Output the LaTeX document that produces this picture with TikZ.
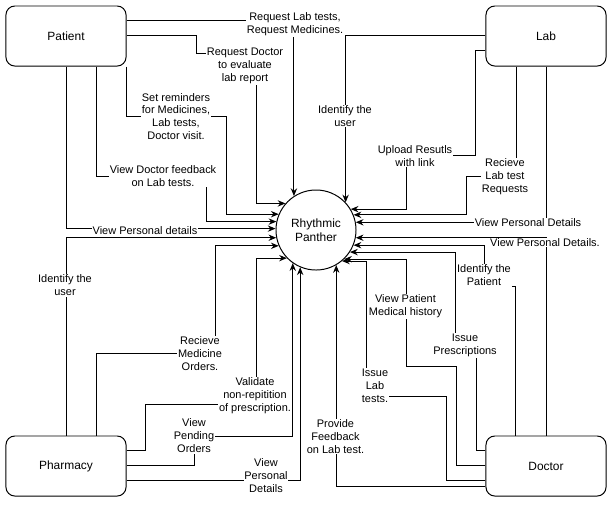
\documentclass[tikz,border=0pt]{standalone}
\usepackage{fontspec}
\setmainfont{Liberation Sans}
\usetikzlibrary{arrows.meta}

\begin{document}
\begin{tikzpicture}[x=0.025cm, y=-0.025cm, line width=0.7pt,
  box/.style={draw, rounded corners=0.22cm, minimum width=3cm, minimum height=1.5cm,
    font=\fontsize{8.5}{10}\selectfont},
  hub/.style={draw, circle, minimum size=2cm, inner sep=0pt, align=center,
    font=\fontsize{8.5}{10}\selectfont},
  lbl/.style={fill=white, inner sep=0.6pt, align=center, font=\fontsize{7.8}{9.2}\selectfont},
  flow/.style={-{Stealth[length=5.5pt,width=4.5pt]}}]
\useasboundingbox (0,0) rectangle (611,509);
% System in the middle, actors in the corners
\node[hub] (circ) at (316,230) {Rhythmic\\Panther};
\foreach \n/\x/\y in {Patient/66/36, Lab/546/36, Pharmacy/66/466, Doctor/546/466} {
  \node[box] (\n) at (\x,\y) {\n};
}

% Patient flows
\draw[flow] (Patient.east |- 0,20) -| (circ.123.4);
\draw[flow] (Patient.east |- 0,35) -| (196,53) -- (256,53) |- (circ.139.46);
\draw[flow] (Patient.south east) |- (226,116) |- (circ.157.98);
\draw[flow] (Patient.south -| 96,0) |- (206,176) |- (circ.168.46);
\draw[flow] (Patient.south) |- (circ.178.57);

% Pharmacy flows
\draw[flow] (Pharmacy.north) |- (circ.191.54);
\draw[flow] (Pharmacy.north -| 96,0) |- (215,353) |- (circ.203.58);
\draw[flow] (Pharmacy.east |- 0,450) -| (145,404) -- (256,404) |- (circ.224.43);
\draw[flow] (Pharmacy.east |- 0,465) -| (194,436) -| (circ.-125.1);
\draw[flow] (Pharmacy.east |- 0,480) -| (circ.-113.58);

% Lab flows
\draw[flow] (Lab.west |- 0,35) -| (circ.43.53);
\draw[flow] (Lab.west |- 0,50) -| (475,155) -- (406,155) |- (circ.31.67);
\draw[flow] (Lab.south -| 516,0) |- (466,176) |- (circ.22.02);
\draw[flow] (Lab.south) |- (circ.11.54);

% Doctor flows
\draw[flow] (Doctor.north) |- (circ.-11.54);
\draw[flow] (Doctor.north -| 515,0) |- (484,286) |- (circ.-22.02);
\draw[flow] (Doctor.west |- 0,450) -| (476,345) -- (455,345) |- (circ.-33.37);
\draw[flow] (Doctor.west |- 0,465) -| (456,366) -- (406,366) |- (circ.-46.47);
\draw[flow] (Doctor.west |- 0,480) -| (446,396) -- (366,396) |- (circ.-50.81);
\draw[flow] (Doctor.west |- 0,486) -| (circ.-60);

% labels on the lines
\node[lbl] (lReq) at (295,24.5) {Request Lab tests,\\Request Medicines.};
\node[lbl] (lDoc) at (245,66) {Request Doctor\\to evaluate\\lab report};
\node[lbl] (lRem) at (176,116.5) {Set reminders\\for Medicines,\\Lab tests,\\Doctor visit.};
\node[lbl] (lFb) at (163,176) {View Doctor feedback\\on Lab tests.};
\node[lbl] (lPdP) at (145,231) {View Personal details};
\node[lbl] (lIdF) at (65,285.5) {Identify the\\user};
\node[lbl] (lMed) at (200,354) {Recieve\\Medicine\\Orders.};
\node[lbl] (lVal) at (255,396) {Validate\\non-repitition\\of prescription.};
\node[lbl] (lPen) at (194,436) {View\\Pending\\Orders};
\node[lbl] (lPdF) at (266,476) {View\\Personal\\Details};
\node[lbl] (lIdL) at (345,116) {Identify the\\user};
\node[lbl] (lUp) at (415,156) {Upload Resutls\\with link};
\node[lbl] (lRcv) at (505,176.5) {Recieve\\Lab test\\Requests};
\node[lbl] (lPdL) at (528,223) {View Personal Details};
\node[lbl] (lPdD) at (545,242.5) {View Personal Details.};
\node[lbl] (lIdD) at (484,275.5) {Identify the\\Patient};
\node[lbl] (lPre) at (465,345.5) {Issue\\Prescriptions};
\node[lbl] (lHis) at (405.5,306.5) {View Patient\\Medical history};
\node[lbl] (lLab) at (375,386) {Issue\\Lab\\tests.};
\node[lbl] (lPro) at (335.5,436.5) {Provide\\Feedback\\on Lab test.};

\end{tikzpicture}
\end{document}
